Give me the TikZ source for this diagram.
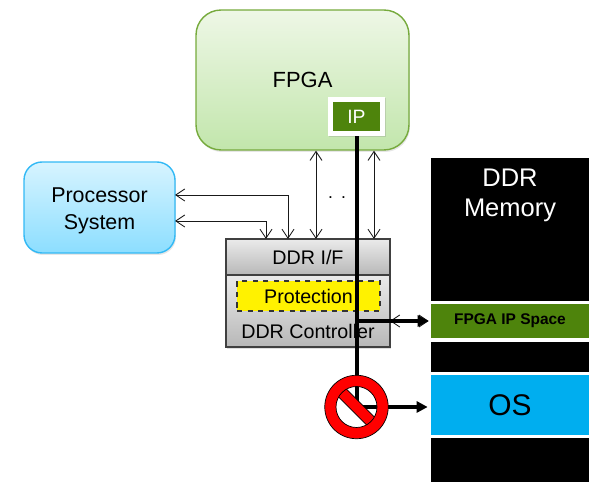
\documentclass[tikz,border=0pt]{standalone}
\usepackage{fontspec}
\setmainfont{Liberation Sans}
\usetikzlibrary{arrows.meta,shadows}
\definecolor{ipgreen}{RGB}{78,132,12}
\definecolor{oscyan}{RGB}{0,174,239}
\definecolor{fpgaline}{RGB}{118,170,60}
\definecolor{fpgatop}{RGB}{238,247,230}
\definecolor{fpgabottom}{RGB}{194,230,172}
\definecolor{procline}{RGB}{50,185,245}
\definecolor{proctop}{RGB}{215,244,255}
\definecolor{procbottom}{RGB}{140,222,255}
\tikzset{
    block/.style={draw=#1,line width=0.8pt,rounded corners=0.5cm,anchor=center,drop shadow={shadow xshift=0.02cm,shadow yshift=-0.04cm,opacity=0.2}},
    ddrpart/.style={draw=black!75,line width=0.6pt,top color=black!8,bottom color=black!28,anchor=center},
    memslot/.style={fill=white,anchor=center,inner sep=0pt},
    thinarrow/.style={{Straight Barb[length=1.8mm,width=2.4mm]}-{Straight Barb[length=1.8mm,width=2.4mm]},line width=0.5pt,black!90},
    heavyarrow/.style={-{Triangle[length=2.2mm,width=2.2mm]},line width=1.9pt},
}
\begin{document}
\begin{tikzpicture}[x=0.02cm,y=-0.02cm]
    \useasboundingbox (0,0) rectangle (589,482);

    % Memory column on the right
    \node[fill=black,minimum width=3.16cm,minimum height=6.48cm,inner sep=0pt] (memory) at (510,320) {};
    \node[text=white,align=center,font=\fontsize{14.5}{17}\selectfont] (memorytext) at (510,195) {DDR\\Memory};
    \node[memslot,minimum width=3.2cm,minimum height=0.82cm] (ipslot) at (509,321.5) {};
    \node[memslot,fill=ipgreen,minimum width=3.16cm,minimum height=0.68cm,font=\fontsize{8.8}{10}\selectfont\bfseries] (ipspace) at (510,321) {FPGA IP Space};
    \node[memslot,minimum width=3.22cm,minimum height=1.32cm] (osslot) at (508.5,405) {};
    \node[memslot,fill=oscyan,minimum width=3.16cm,minimum height=1.2cm,font=\fontsize{17}{20}\selectfont] (os) at (510,405) {OS};

    % Main blocks
    \node[block=fpgaline,top color=fpgatop,bottom color=fpgabottom,minimum width=4.26cm,minimum height=2.8cm,font=\fontsize{12.5}{15}\selectfont] (fpga) at (302.5,80) {FPGA};
    \node[block=procline,top color=proctop,bottom color=procbottom,rounded corners=0.36cm,minimum width=3.02cm,minimum height=1.82cm] (processor) at (99.5,207.5) {};
    \node[align=center,font=\fontsize{12.2}{15.5}\selectfont] (proctext) at (99.5,210.5) {Processor\\System};
    \node[ddrpart,minimum width=3.28cm,minimum height=0.72cm,font=\fontsize{11.2}{13}\selectfont] (ddrif) at (308,257) {DDR I/F};
    \node[ddrpart,minimum width=3.28cm,minimum height=1.44cm,drop shadow={shadow xshift=0.02cm,shadow yshift=-0.04cm,opacity=0.25}] (ddrctrl) at (308,311) {};
    \node[font=\fontsize{11.2}{13}\selectfont] (ctrltext) at (308,331) {DDR Controller};
    \node[draw=black!80,dashed,fill=yellow,line width=0.6pt,minimum width=2.86cm,minimum height=0.6cm,font=\fontsize{11.2}{13}\selectfont] (protection) at (308.5,296) {Protection};

    % IP box inside the FPGA
    \node[fill=white,minimum width=1.14cm,minimum height=0.78cm,inner sep=0pt,drop shadow={shadow xshift=0.02cm,shadow yshift=-0.03cm,opacity=0.25}] (ipframe) at (356.5,116.5) {};
    \node[fill=ipgreen,text=white,minimum width=0.94cm,minimum height=0.58cm,inner sep=0pt,font=\fontsize{11}{13}\selectfont] (ip) at (356.5,116.5) {IP};

    % Where the thin links meet the DDR interface
    \coordinate (portA) at (266,239);
    \coordinate (portB) at (288,239);
    \coordinate (portC) at (316,239);
    \coordinate (portD) at (374,239);
    \coordinate (procA) at (175,195);
    \coordinate (procB) at (175,221);

    % Thin links
    \draw[thinarrow] (procA) -| (portB);
    \draw[thinarrow] (procB) -| (portA);
    \draw[thinarrow] (portC |- fpga.south) -- (portC);
    \draw[thinarrow] (portD |- fpga.south) -- (portD);
    \node[font=\fontsize{10}{12}\selectfont] (dots) at (343.5,198) {.\hspace{0.16cm}.\hspace{0.16cm}.};

    % Link between controller and IP space
    \coordinate (ctrlout) at (390,321);
    \draw[thinarrow] (ctrlout) -- (ipslot.west |- ctrlout);

    % Blocked access, white disc goes under the line
    \coordinate (stopcentre) at (356.5,407);
    \coordinate (barturn) at (357,321);
    \fill[white] (stopcentre) circle (0.42cm);
    \draw[line width=0.85mm] (ipframe.south -| barturn) -- (stopcentre -| barturn);
    \draw[heavyarrow] (barturn) -- (ipslot.west |- barturn);
    \draw[heavyarrow] (stopcentre) -- (osslot.west |- stopcentre);

    % No entry sign
    \node[draw=black,line width=0.4pt,fill=red,rotate=-45,minimum width=0.86cm,minimum height=0.22cm,inner sep=0pt] (stopbar) at (stopcentre) {};
    \draw[black,line width=0.4pt,fill=red,even odd rule] (stopcentre) circle (0.635cm) (stopcentre) circle (0.41cm);
\end{tikzpicture}
\end{document}
